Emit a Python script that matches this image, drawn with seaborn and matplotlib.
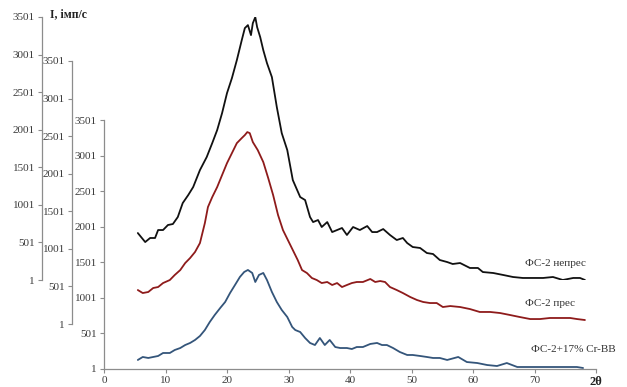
import matplotlib
matplotlib.use("Agg")
import matplotlib.pyplot as plt
import seaborn as sns
import pandas as pd

# ---- data (2theta, intensity) ----
black_x = [5.5, 6.7, 7.5, 8.3, 8.8, 9.6, 10.4, 11.2, 12.0, 12.8, 13.7, 14.5, 15.6, 16.7, 17.6, 18.4,
           19.2, 20.0, 20.8, 21.6, 22.4, 22.9, 23.4, 23.9, 24.2, 24.6, 24.9, 25.4, 25.9, 26.5, 27.3,
           28.1, 28.9, 29.8, 30.7, 31.9, 32.7, 33.5, 34.0, 34.8, 35.4, 36.3, 37.1, 37.9, 38.7, 39.5,
           40.5, 41.6, 42.8, 43.6, 44.4, 45.4, 46.5, 47.6, 48.6, 49.3, 50.2, 51.4, 52.5, 53.5, 54.6,
           55.8, 56.7, 57.9, 59.5, 60.8, 61.6, 63.3, 64.9, 66.5, 68.1, 69.8, 71.4, 73.0, 74.6, 76.3,
           77.4, 78.2]
black_y = [626, 506, 560, 560, 666, 666, 733, 746, 839, 1025, 1132, 1238, 1464, 1637, 1823, 1996,
           2222, 2488, 2688, 2927, 3193, 3353, 3393, 3260, 3419, 3499, 3366, 3233, 3060, 2887, 2701,
           2302, 1956, 1730, 1331, 1105, 1065, 839, 772, 799, 706, 772, 639, 666, 693, 600,
           706, 666, 719, 639, 639, 679, 600, 533, 560, 493, 440, 427, 360, 347, 267,
           240, 214, 227, 161, 161, 107, 94, 68, 41, 28, 28, 28, 41, 1, 28,
           28, 1]

red_x = [5.5, 6.3, 7.2, 8.0, 8.8, 9.6, 10.7, 11.5, 12.4, 13.2, 14.0, 14.8, 15.6, 16.4, 16.9, 17.6,
         18.4, 19.2, 20.0, 20.8, 21.6, 22.4, 22.9, 23.3, 23.7, 24.2, 25.0, 25.9, 26.7, 27.5, 28.3,
         29.1, 29.9, 30.7, 31.5, 32.2, 33.0, 33.8, 34.6, 35.4, 36.3, 37.1, 37.9, 38.7, 39.5, 40.3,
         41.1, 42.1, 43.3, 44.1, 44.9, 45.7, 46.5, 47.6, 48.6, 49.8, 50.9, 51.9, 53.0, 54.1, 55.1,
         56.3, 57.9, 59.5, 61.1, 62.8, 64.4, 66.0, 67.6, 69.3, 70.9, 72.5, 74.1, 75.8, 76.9, 78.2]
red_y = [453, 413, 427, 480, 493, 546, 586, 653, 719, 812, 879, 959, 1078, 1344, 1557, 1690,
         1823, 1983, 2142, 2275, 2408, 2475, 2515, 2555, 2541, 2422, 2315, 2156, 1943, 1717, 1451,
         1251, 1118, 985, 852, 719, 679, 613, 586, 546, 560, 520, 546, 493, 520, 546,
         560, 560, 600, 560, 573, 560, 493, 453, 413, 360, 320, 294, 280, 280, 227,
         240, 227, 200, 161, 161, 147, 121, 94, 67, 67, 81, 81, 81, 67, 54]

blue_x = [5.5, 6.3, 7.2, 8.0, 8.8, 9.6, 10.7, 11.5, 12.4, 13.2, 14.0, 14.8, 15.6, 16.4, 17.2, 18.0,
          18.9, 19.7, 20.5, 21.3, 22.1, 22.8, 23.4, 24.1, 24.6, 25.2, 25.9, 26.5, 27.3, 28.1, 28.9,
          29.8, 30.6, 31.1, 31.9, 32.7, 33.5, 34.3, 35.1, 35.9, 36.7, 37.6, 38.4, 39.5, 40.3, 41.1,
          42.1, 43.3, 44.4, 45.2, 46.0, 47.0, 48.1, 49.3, 50.2, 51.4, 52.5, 53.5, 54.6, 55.8, 57.6,
          59.0, 60.7, 62.3, 63.9, 65.5, 67.2, 68.8, 70.4, 72.0, 73.7, 75.3, 76.9, 77.9]
blue_y = [128, 170, 156, 170, 184, 226, 226, 268, 296, 338, 367, 409, 465, 549, 662, 760,
          859, 943, 1070, 1182, 1295, 1365, 1393, 1351, 1224, 1323, 1351, 1252, 1084, 943, 831,
          732, 592, 549, 521, 437, 367, 338, 437, 338, 409, 310, 296, 296, 282, 310,
          310, 353, 367, 338, 338, 296, 240, 198, 198, 184, 170, 156, 156, 128, 170,
          99, 85, 57, 43, 85, 29, 29, 29, 29, 29, 29, 29, 15]

series_labels = ["ФС-2 непрес", "ФС-2 прес", "ФС-2+17% Cr-BB"]
series_colors = ["#111111", "#8e1b1b", "#34557a"]
x_ticks = [0, 10, 20, 30, 40, 50, 60, 70, 80]
x_ticklabels = ["0", "10", "20", "30", "40", "50", "60", "70", "2θ"]
y_ticks = [1, 501, 1001, 1501, 2001, 2501, 3001, 3501]
y_title = "I, імп/с"

sns.set_style("white")
plt.rcParams["font.family"] = ["Liberation Serif", "DejaVu Serif"]

W, H = 627, 387
fig = plt.figure(figsize=(W / 100, H / 100), dpi=100)

def fx(px):
    return px / W

def fy(py):
    return 1 - py / H

left_px, right_px = 104, 596
# (top_px, bottom_px, spine_px) for each stacked axis
layout = [(17, 280, 42), (61, 324, 72), (120, 369, 104)]
datasets = [(black_x, black_y), (red_x, red_y), (blue_x, blue_y)]
tick_col = "#3a3a3a"
spine_col = "#8c8c8c"

axes = []
for i, ((top, bot, sp), (xs, ys)) in enumerate(zip(layout, datasets)):
    ax = fig.add_axes([fx(left_px), fy(bot), fx(right_px - left_px), (bot - top) / H])
    ax.patch.set_alpha(0)
    df = pd.DataFrame({"x": xs, "y": ys})
    sns.lineplot(data=df, x="x", y="y", ax=ax, color=series_colors[i], linewidth=1.3,
                 estimator=None, sort=False)
    ax.set_xlim(0, 80)
    ax.set_ylim(1, 3501)
    ax.set_yticks(y_ticks)
    ax.set_yticklabels([str(t) for t in y_ticks])
    ax.set_xlabel("")
    ax.set_ylabel("")
    for s in ["top", "right"]:
        ax.spines[s].set_visible(False)
    ax.spines["left"].set_color(spine_col)
    ax.spines["left"].set_linewidth(0.9)
    ax.spines["left"].set_position(("axes", (sp - left_px) / (right_px - left_px)))
    ax.tick_params(axis="y", direction="out", length=3, width=0.8, color=spine_col,
                   labelsize=8, labelcolor=tick_col, pad=2, left=True)
    if i < 2:
        ax.spines["bottom"].set_visible(False)
        ax.tick_params(axis="x", bottom=False, labelbottom=False)
    else:
        ax.spines["bottom"].set_color(spine_col)
        ax.spines["bottom"].set_linewidth(0.9)
        ax.set_xticks(x_ticks)
        ax.set_xticklabels(x_ticklabels)
        ax.tick_params(axis="x", direction="out", length=3, width=0.8, color=spine_col,
                       labelsize=8, labelcolor=tick_col, pad=2, bottom=True)
        lab = ax.get_xticklabels()[-1]
        lab.set_fontweight("bold")
        lab.set_fontsize(9)
        lab.set_color("#222222")
    axes.append(ax)

# y title
fig.text(fx(50), fy(15), y_title, fontsize=8.5, fontweight="bold", color="#222222",
         ha="left", va="center")

# series labels
label_pos = [(555, 264), (550, 303), (573, 350)]
for (px, py), t in zip(label_pos, series_labels):
    fig.text(fx(px), fy(py), t, fontsize=8, color="#333333", ha="center", va="center")

fig.savefig("out.png", dpi=100)
